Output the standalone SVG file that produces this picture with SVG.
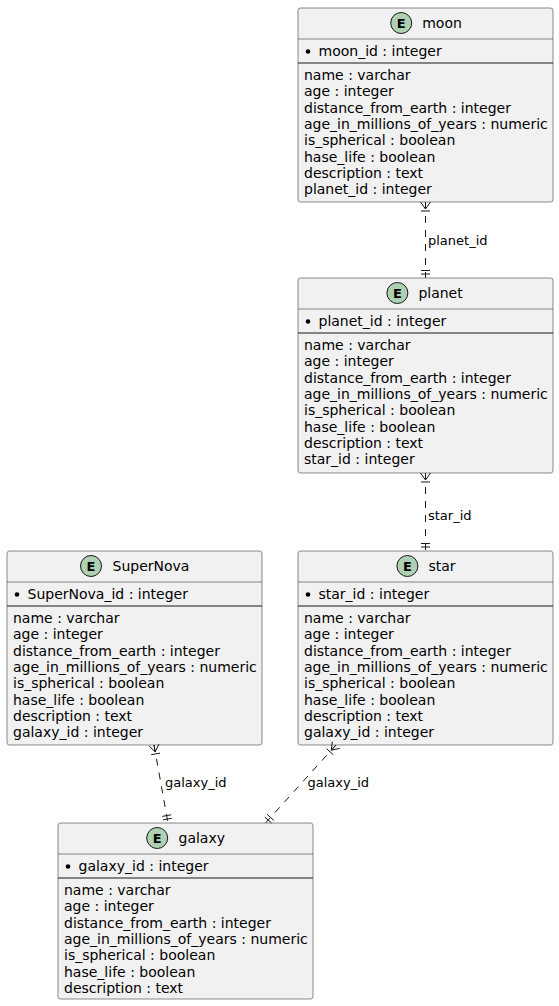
<svg xmlns="http://www.w3.org/2000/svg" width="559" height="1006" viewBox="0 0 559 1006">
<style>
text{font-family:"DejaVu Sans","Liberation Sans",sans-serif;fill:#000}
.box{fill:#F1F1F1;stroke:#181818;stroke-width:0.5}
.s1{stroke:#181818;stroke-width:0.5}
.s2{stroke:#181818;stroke-width:1}
.ic{fill:#ADD1B2;stroke:#181818;stroke-width:1}
.E{font-size:13px;font-weight:bold;text-anchor:middle}
.t{font-size:14px}
.a{font-size:14px}
.lbl{font-size:13px}
.ln{fill:none;stroke:#181818;stroke-width:1;stroke-dasharray:7,7}
.mk{fill:none;stroke:#181818;stroke-width:1}
</style>
<rect width="559" height="1006" fill="#FFFFFF"/>

<g id="moon">
<rect class="box" x="298" y="8" width="255" height="194" rx="2.5"/>
<circle class="ic" cx="401.2" cy="23" r="10.5"/>
<text class="E" x="401.2" y="27.7">E</text>
<text class="t" x="422.2" y="28.3">moon</text>
<line class="s1" x1="298" y1="39" x2="553" y2="39"/>
<circle cx="308" cy="51.5" r="2.3" fill="#000"/>
<text class="a" x="318.5" y="55.5">moon_id : integer</text>
<line class="s2" x1="298" y1="63" x2="553" y2="63"/>
<text class="a" x="304" y="80">name : varchar</text>
<text class="a" x="304" y="96.3">age : integer</text>
<text class="a" x="304" y="112.6">distance_from_earth : integer</text>
<text class="a" x="304" y="128.9">age_in_millions_of_years : numeric</text>
<text class="a" x="304" y="145.2">is_spherical : boolean</text>
<text class="a" x="304" y="161.5">hase_life : boolean</text>
<text class="a" x="304" y="177.8">description : text</text>
<text class="a" x="304" y="194.1">planet_id : integer</text>
</g>

<g id="planet">
<rect class="box" x="298" y="278" width="255" height="195" rx="2.5"/>
<circle class="ic" cx="397.4" cy="293" r="10.5"/>
<text class="E" x="397.4" y="297.7">E</text>
<text class="t" x="418.4" y="298.3">planet</text>
<line class="s1" x1="298" y1="309" x2="553" y2="309"/>
<circle cx="308" cy="321.5" r="2.3" fill="#000"/>
<text class="a" x="318.5" y="325.5">planet_id : integer</text>
<line class="s2" x1="298" y1="333" x2="553" y2="333"/>
<text class="a" x="304" y="350">name : varchar</text>
<text class="a" x="304" y="366.3">age : integer</text>
<text class="a" x="304" y="382.6">distance_from_earth : integer</text>
<text class="a" x="304" y="398.9">age_in_millions_of_years : numeric</text>
<text class="a" x="304" y="415.2">is_spherical : boolean</text>
<text class="a" x="304" y="431.5">hase_life : boolean</text>
<text class="a" x="304" y="447.8">description : text</text>
<text class="a" x="304" y="464.1">star_id : integer</text>
</g>

<g id="SuperNova">
<rect class="box" x="7" y="551" width="255" height="194" rx="2.5"/>
<circle class="ic" cx="91" cy="566" r="10.5"/>
<text class="E" x="91" y="570.7">E</text>
<text class="t" x="112.5" y="571.3">SuperNova</text>
<line class="s1" x1="7" y1="582" x2="262" y2="582"/>
<circle cx="17" cy="594.5" r="2.3" fill="#000"/>
<text class="a" x="27.5" y="598.5">SuperNova_id : integer</text>
<line class="s2" x1="7" y1="606" x2="262" y2="606"/>
<text class="a" x="13" y="623">name : varchar</text>
<text class="a" x="13" y="639.3">age : integer</text>
<text class="a" x="13" y="655.6">distance_from_earth : integer</text>
<text class="a" x="13" y="671.9">age_in_millions_of_years : numeric</text>
<text class="a" x="13" y="688.2">is_spherical : boolean</text>
<text class="a" x="13" y="704.5">hase_life : boolean</text>
<text class="a" x="13" y="720.8">description : text</text>
<text class="a" x="13" y="737.1">galaxy_id : integer</text>
</g>

<g id="star">
<rect class="box" x="298" y="551" width="255" height="194" rx="2.5"/>
<circle class="ic" cx="407.4" cy="566" r="10.5"/>
<text class="E" x="407.4" y="570.7">E</text>
<text class="t" x="428.4" y="571.3">star</text>
<line class="s1" x1="298" y1="582" x2="553" y2="582"/>
<circle cx="308" cy="594.5" r="2.3" fill="#000"/>
<text class="a" x="318.5" y="598.5">star_id : integer</text>
<line class="s2" x1="298" y1="606" x2="553" y2="606"/>
<text class="a" x="304" y="623">name : varchar</text>
<text class="a" x="304" y="639.3">age : integer</text>
<text class="a" x="304" y="655.6">distance_from_earth : integer</text>
<text class="a" x="304" y="671.9">age_in_millions_of_years : numeric</text>
<text class="a" x="304" y="688.2">is_spherical : boolean</text>
<text class="a" x="304" y="704.5">hase_life : boolean</text>
<text class="a" x="304" y="720.8">description : text</text>
<text class="a" x="304" y="737.1">galaxy_id : integer</text>
</g>

<g id="galaxy">
<rect class="box" x="58" y="823" width="255" height="176" rx="2.5"/>
<circle class="ic" cx="157.2" cy="838" r="10.5"/>
<text class="E" x="157.2" y="842.7">E</text>
<text class="t" x="178.5" y="843.3">galaxy</text>
<line class="s1" x1="58" y1="854" x2="313" y2="854"/>
<circle cx="68" cy="866.5" r="2.3" fill="#000"/>
<text class="a" x="78.5" y="870.5">galaxy_id : integer</text>
<line class="s2" x1="58" y1="878" x2="313" y2="878"/>
<text class="a" x="64" y="895">name : varchar</text>
<text class="a" x="64" y="911.3">age : integer</text>
<text class="a" x="64" y="927.6">distance_from_earth : integer</text>
<text class="a" x="64" y="943.9">age_in_millions_of_years : numeric</text>
<text class="a" x="64" y="960.2">is_spherical : boolean</text>
<text class="a" x="64" y="976.5">hase_life : boolean</text>
<text class="a" x="64" y="992.8">description : text</text>
</g>

<g id="connectors">
<!-- moon to planet -->
<line class="ln" x1="425.5" y1="202" x2="425.5" y2="278"/>
<path class="mk" d="M420.5,202 L425.5,209 L430.5,202 M425.5,202 L425.5,209 M421,211 L430,211 M421,274 L430,274 M421,270.5 L430,270.5"/>
<text class="lbl" x="428" y="245">planet_id</text>
<!-- planet to star -->
<line class="ln" x1="425.5" y1="473" x2="425.5" y2="551"/>
<path class="mk" d="M420.5,473 L425.5,480 L430.5,473 M425.5,473 L425.5,480 M421,482 L430,482 M421,547 L430,547 M421,543.5 L430,543.5"/>
<text class="lbl" x="428" y="520">star_id</text>
<!-- SuperNova to galaxy -->
<line class="ln" x1="154" y1="745" x2="168" y2="823"/>
<path class="mk" d="M158.9,744.1 L155.2,751.9 L149.1,745.9 M154,745 L155.2,751.9 M160,753.1 L151.2,754.7 M171.7,818.3 L162.9,819.9 M171.1,814.8 L162.2,816.4"/>
<text class="lbl" x="165" y="787">galaxy_id</text>
<!-- star to galaxy -->
<line class="ln" x1="336" y1="745" x2="265.5" y2="823"/>
<path class="mk" d="M339.7,748.4 L331.3,750.2 L332.3,741.7 M336,745 L331.3,750.2 M333.3,754.7 L326.6,748.7 M271.5,823 L264.8,817 M273.9,820.5 L267.2,814.4"/>
<text class="lbl" x="307.5" y="787">galaxy_id</text>
</g>
</svg>
